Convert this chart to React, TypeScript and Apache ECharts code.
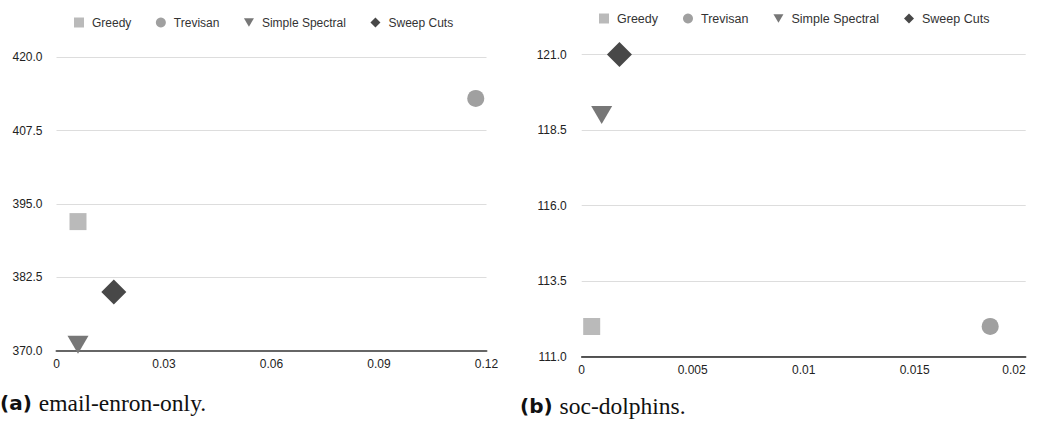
import React, { useEffect, useRef } from "react";
import * as echarts from "echarts";

const seriesNames = ["Greedy", "Trevisan", "Simple Spectral", "Sweep Cuts"];
const seriesColors = ["#bababa", "#a0a0a0", "#777777", "#484848"];
const seriesSymbols = ["rect", "circle", "triangle", "diamond"];
const seriesRotate = [0, 0, 180, 0];
const seriesSizes: (number | number[])[] = [17, 17, [21, 18], 25];
const legendIcons = ["rect", "circle", "path://M0,0L12,0L6,10Z", "diamond"];

// (a) email-enron-only
const enronX = [0.006, 0.117, 0.006, 0.016];
const enronY = [392, 413, 371, 380];
const enronXAxis = { min: 0, max: 0.12, interval: 0.03 };
const enronYAxis = { min: 370, max: 420, interval: 12.5 };

// (b) soc-dolphins
const dolphinsX = [0.00045, 0.0184, 0.0009, 0.0017];
const dolphinsY = [112, 112, 119, 121];
const dolphinsXAxis = { min: 0, max: 0.02, interval: 0.005 };
const dolphinsYAxis = { min: 111, max: 121, interval: 2.5 };

const captionA = ["(a)", "email-enron-only."];
const captionB = ["(b)", "soc-dolphins."];

const FONT = "'Liberation Sans', Arial, Helvetica, sans-serif";

export default function App() {
  const ref = useRef<HTMLDivElement>(null);
  useEffect(() => {
    if (!ref.current) return;
    const chart = echarts.init(ref.current, undefined, { renderer: "svg" });

    const makeSeries = (xs: number[], ys: number[], gi: number) =>
      seriesNames.map((name, i) => ({
        type: "scatter",
        name,
        xAxisIndex: gi,
        yAxisIndex: gi,
        symbol: seriesSymbols[i],
        symbolRotate: seriesRotate[i],
        symbolSize: seriesSizes[i],
        itemStyle: { color: seriesColors[i], opacity: 1 },
        data: [[xs[i], ys[i]]],
        z: 3,
      }));

    const xAxisBase = (cfg: any, lineColor: string, lineWidth: number, alignMax?: string) => ({
      type: "value",
      ...cfg,
      axisLine: { show: true, onZero: false, lineStyle: { color: lineColor, width: lineWidth } },
      axisTick: { show: false },
      splitLine: { show: false },
      axisLabel: {
        color: "#222",
        fontSize: 12,
        fontFamily: FONT,
        margin: 7,
        ...(alignMax ? { alignMaxLabel: alignMax } : {}),
      },
    });

    const yAxisBase = (cfg: any, margin: number) => ({
      type: "value",
      ...cfg,
      axisLine: { show: false },
      axisTick: { show: false },
      splitLine: { show: true, lineStyle: { color: "#dddddd", width: 1 } },
      axisLabel: {
        color: "#222",
        fontSize: 12,
        fontFamily: FONT,
        margin,
        formatter: (v: number) => v.toFixed(1),
      },
    });

    const legendBase = (left: number, top: number, fontSize: number, gap: number) => ({
      left,
      top,
      padding: 0,
      orient: "horizontal",
      itemWidth: 10,
      itemHeight: 10,
      itemGap: gap,
      symbolKeepAspect: true,
      symbolRotate: 0,
      data: seriesNames.map((name, i) => ({ name, icon: legendIcons[i] })),
      textStyle: { color: "#333", fontSize, fontFamily: FONT, padding: [0, 0, 0, 3] },
    });

    const caption = (x: number, top: number, parts: string[]) => ({
      type: "text",
      left: x,
      top,
      style: {
        text: `{b|${parts[0]}}{s|${parts[1]}}`,
        rich: {
          b: {
            fontFamily: "'DejaVu Sans', sans-serif",
            fontWeight: "bold",
            fontSize: 20,
            fill: "#111",
            lineHeight: 26,
            padding: [0, 7, 0, 0],
          },
          s: {
            fontFamily: "'Liberation Serif', 'Times New Roman', serif",
            fontSize: 23.5,
            fill: "#111",
            lineHeight: 26,
          },
        },
      },
    });

    chart.setOption({
      animation: false,
      backgroundColor: "#ffffff",
      legend: [legendBase(74, 16.5, 12, 24.5), legendBase(599, 12, 12.5, 25)],
      grid: [
        { left: 56.5, top: 57.3, width: 430, height: 293.4, containLabel: false },
        { left: 581.7, top: 54.5, width: 444, height: 302.2, containLabel: false },
      ],
      xAxis: [
        { ...xAxisBase(enronXAxis, "#666666", 2), gridIndex: 0 },
        { ...xAxisBase(dolphinsXAxis, "#222222", 1.5, "right"), gridIndex: 1 },
      ],
      yAxis: [
        { ...yAxisBase(enronYAxis, 14), gridIndex: 0 },
        { ...yAxisBase(dolphinsYAxis, 15), gridIndex: 1 },
      ],
      series: [...makeSeries(enronX, enronY, 0), ...makeSeries(dolphinsX, dolphinsY, 1)],
      graphic: [caption(0, 391, captionA), caption(520, 394, captionB)],
    });

    return () => chart.dispose();
  }, []);

  return (
    <div
      ref={ref}
      style={{ position: "absolute", left: 0, top: 0, width: 1040, height: 436, background: "#fff" }}
    />
  );
}
